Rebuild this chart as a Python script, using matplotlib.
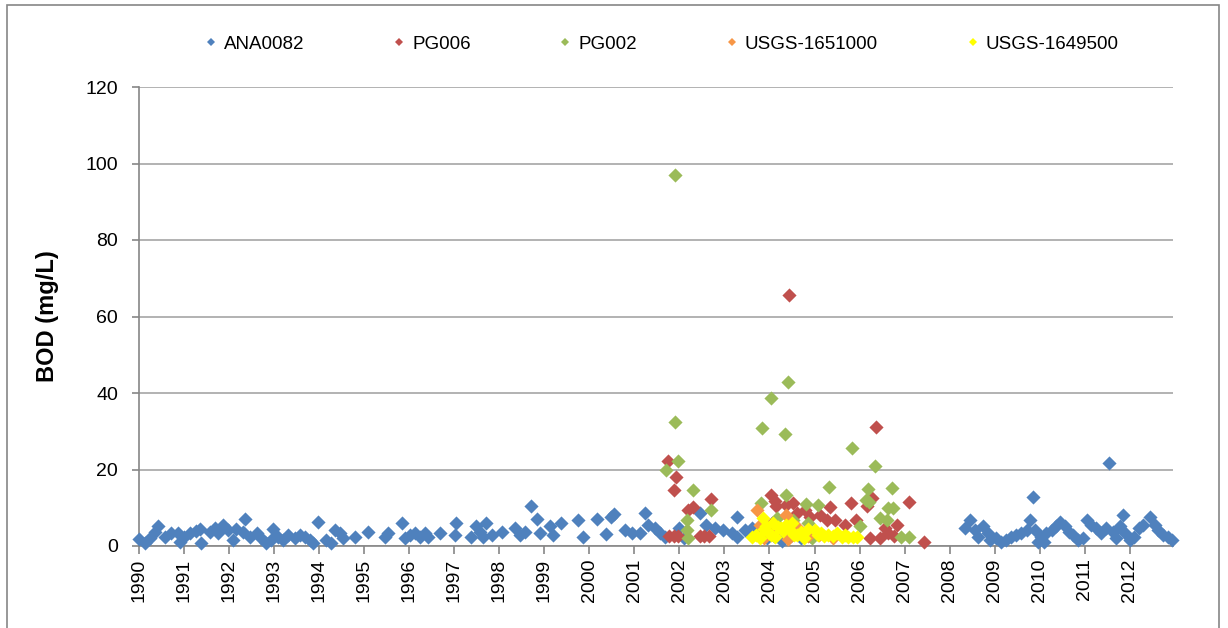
import matplotlib
matplotlib.use("Agg")
import matplotlib.pyplot as plt
from matplotlib.lines import Line2D
from matplotlib.patches import Rectangle

# sample dates as decimal years, BOD in mg/L
ana_x = [1990.00, 1990.13, 1990.24, 1990.35, 1990.42, 1990.57, 1990.72, 1990.87, 1990.90,
         1991.01, 1991.13, 1991.27, 1991.35, 1991.38, 1991.57, 1991.68, 1991.75, 1991.87, 1991.98,
         1992.09, 1992.16, 1992.31, 1992.35, 1992.46, 1992.61, 1992.72, 1992.83, 1992.94, 1992.98,
         1993.09, 1993.20, 1993.31, 1993.46, 1993.57, 1993.68, 1993.79, 1993.86, 1993.98,
         1994.16, 1994.27, 1994.35, 1994.46, 1994.53, 1994.79, 1995.09, 1995.46, 1995.53,
         1995.83, 1995.90, 1996.01, 1996.12, 1996.23, 1996.35, 1996.42, 1996.68,
         1997.01, 1997.05, 1997.38, 1997.49, 1997.57, 1997.64, 1997.71, 1997.83,
         1998.05, 1998.35, 1998.45, 1998.57, 1998.71, 1998.83, 1998.90,
         1999.12, 1999.19, 1999.38, 1999.75, 1999.86, 2000.16, 2000.38, 2000.49, 2000.54,
         2000.79, 2000.94, 2001.12, 2001.23, 2001.30, 2001.45, 2001.56, 2001.67,
         2002.00, 2002.10, 2002.45, 2002.60, 2002.79, 2002.97, 2003.16, 2003.27, 2003.27,
         2003.45, 2003.56, 2003.62, 2003.80, 2003.95, 2004.10, 2004.28, 2004.50, 2004.70, 2004.90,
         2008.34, 2008.45, 2008.56, 2008.63, 2008.74, 2008.85, 2008.89, 2009.04, 2009.15,
         2009.26, 2009.37, 2009.48, 2009.59, 2009.71, 2009.78, 2009.85, 2009.89, 2009.97,
         2010.04, 2010.10, 2010.15, 2010.27, 2010.37, 2010.45, 2010.56, 2010.64, 2010.75,
         2010.85, 2010.97, 2011.04, 2011.15, 2011.26, 2011.37, 2011.48, 2011.54, 2011.62,
         2011.70, 2011.78, 2011.85, 2011.90, 2012.00, 2012.10, 2012.20, 2012.30, 2012.45,
         2012.56, 2012.63, 2012.74, 2012.85, 2012.93]
ana_y = [1.8, 0.7, 2.0, 3.7, 5.2, 2.4, 3.3, 3.3, 1.1,
         2.4, 3.3, 4.0, 4.4, 0.7, 3.7, 4.6, 3.3, 5.5, 4.2,
         1.6, 4.4, 3.7, 7.0, 2.4, 3.3, 2.0, 0.7, 1.6, 4.4,
         2.4, 1.6, 2.9, 2.0, 2.9, 2.4, 1.6, 0.7, 6.4,
         1.6, 0.7, 4.2, 3.3, 2.0, 2.4, 3.7, 2.4, 3.3,
         5.9, 2.0, 2.9, 3.3, 2.4, 3.3, 2.4, 3.3,
         2.9, 5.9, 2.4, 5.1, 3.7, 2.4, 5.9, 2.9,
         3.7, 4.6, 2.9, 3.7, 10.5, 7.0, 3.3,
         5.1, 2.9, 6.1, 6.8, 2.4, 7.0, 3.1, 7.7, 8.4,
         4.2, 3.3, 3.3, 8.6, 5.5, 4.6, 3.3, 2.4,
         4.6, 2.2, 8.6, 5.5, 4.6, 4.2, 3.3, 7.5, 2.4,
         4.2, 3.3, 4.6, 3.0, 2.0, 2.5, 1.3, 3.0, 2.0, 2.5,
         4.6, 6.8, 4.2, 2.4, 5.1, 3.3, 1.6, 2.0, 1.1,
         1.6, 2.4, 2.9, 3.3, 4.2, 6.8, 12.9, 4.2, 1.1,
         2.4, 1.1, 3.3, 4.2, 5.1, 6.4, 5.1, 3.7, 2.9,
         1.6, 2.0, 6.8, 5.5, 4.6, 3.3, 4.6, 21.6, 3.7,
         2.0, 5.1, 8.1, 3.3, 1.6, 2.4, 4.6, 5.5, 7.7,
         5.5, 4.2, 2.9, 2.4, 1.6]

pg006_x = [2001.75, 2001.77, 2001.87, 2001.88, 2001.93, 2001.97, 2002.19, 2002.30, 2002.45,
           2002.55, 2002.65, 2002.71, 2004.03, 2004.05, 2004.12, 2004.15, 2004.34, 2004.37,
           2004.43, 2004.53, 2004.62, 2004.79, 2004.90, 2005.12, 2005.27, 2005.34, 2005.45,
           2005.67, 2005.82, 2005.93, 2006.16, 2006.23, 2006.28, 2006.37, 2006.45, 2006.56,
           2006.64, 2006.77, 2006.83, 2007.10, 2007.44]
pg006_y = [22.1, 2.5, 14.7, 2.5, 18.1, 2.5, 9.4, 10.3, 2.5,
           2.5, 2.5, 12.2, 13.3, 6.0, 11.7, 10.5, 4.6, 10.7,
           65.5, 11.2, 8.5, 9.4, 7.7, 8.1, 6.8, 10.3, 6.8,
           5.5, 11.2, 6.8, 10.5, 2.0, 12.5, 31.0, 2.0, 4.6,
           3.3, 2.5, 5.5, 11.6, 1.0]

pg002_x = [2001.71, 2001.90, 2001.90, 2001.97, 2002.16, 2002.16, 2002.19, 2002.30, 2002.71,
           2003.82, 2003.83, 2004.03, 2004.16, 2004.35, 2004.37, 2004.42, 2004.53, 2004.80,
           2004.86, 2004.95, 2005.08, 2005.32, 2005.83, 2006.00, 2006.15, 2006.19, 2006.22,
           2006.34, 2006.45, 2006.60, 2006.64, 2006.73, 2006.75, 2006.93, 2007.10]
pg002_y = [19.9, 97.1, 32.3, 22.1, 6.8, 4.2, 2.0, 14.7, 9.4,
           11.2, 30.8, 38.7, 7.2, 29.3, 13.4, 42.8, 6.8, 11.0,
           5.9, 2.1, 10.7, 15.5, 25.6, 5.2, 12.0, 14.8, 11.6,
           20.9, 7.2, 6.7, 9.9, 15.1, 9.9, 2.3, 2.3]

usgs1651_x = [2003.73, 2003.80, 2003.88, 2004.15, 2004.37, 2004.40, 2004.60, 2004.85, 2005.10, 2005.40]
usgs1651_y = [9.4, 5.5, 2.0, 4.0, 8.1, 1.8, 5.0, 2.5, 3.0, 2.0]

usgs1649_x = [2003.62, 2003.70, 2003.78, 2003.85, 2003.88, 2003.93, 2003.98, 2004.03, 2004.08,
              2004.12, 2004.20, 2004.26, 2004.30, 2004.37, 2004.45, 2004.50, 2004.55, 2004.60,
              2004.71, 2004.76, 2004.85, 2005.00, 2005.08, 2005.15, 2005.22, 2005.30, 2005.40,
              2005.50, 2005.60, 2005.68, 2005.75, 2005.85, 2005.95]
usgs1649_y = [2.3, 3.0, 2.0, 7.2, 4.5, 5.1, 3.5, 3.0, 6.0,
              2.3, 5.0, 4.6, 4.0, 5.5, 4.2, 6.0, 3.0, 3.0,
              3.7, 2.0, 4.5, 4.2, 2.8, 3.3, 2.5, 3.0, 2.5,
              3.3, 2.3, 2.8, 2.3, 2.3, 2.3]

names = ["ANA0082", "PG006", "PG002", "USGS-1651000", "USGS-1649500"]
colors = ["#4F81BD", "#C0504D", "#9BBB59", "#F79646", "#FFFF00"]
years = list(range(1990, 2013))

plt.rcParams['font.family'] = ['Liberation Sans', 'DejaVu Sans']

fig = plt.figure(figsize=(12.28, 6.28), dpi=100)
ax = fig.add_axes([139 / 1228, 82 / 628, (1173 - 139) / 1228, (546 - 87) / 628])

series = [(ana_x, ana_y), (pg006_x, pg006_y), (pg002_x, pg002_y),
          (usgs1651_x, usgs1651_y), (usgs1649_x, usgs1649_y)]
for (xs, ys), c in zip(series, colors):
    ax.scatter(xs, ys, marker='D', s=52, color=c, linewidths=0, zorder=3, clip_on=False)

ax.set_xlim(1990, 2012.96)
ax.set_ylim(0, 120)
ax.set_yticks(range(0, 121, 20))
ax.set_xticks(years)
ax.set_xticklabels([str(y) for y in years], rotation=90)
ax.tick_params(axis='both', labelsize=14, colors='#868686', labelcolor='black')
ax.tick_params(axis='x', length=6, width=1.2, pad=3)
ax.tick_params(axis='y', length=5, width=1.2, pad=10)
ax.yaxis.grid(True, color='#A6A6A6', lw=1.2)
ax.set_axisbelow(True)
for s in ['top', 'right']:
    ax.spines[s].set_visible(False)
for s in ['left', 'bottom']:
    ax.spines[s].set_color('#868686')
    ax.spines[s].set_linewidth(1.2)

fig.text(48 / 1228, 1 - 316 / 628, "BOD (mg/L)", rotation=90, fontsize=17,
         fontweight='bold', ha='center', va='center')

handles = [Line2D([], [], marker='D', ls='', markersize=4.5, color=c, markeredgewidth=0)
           for c in colors]
fig.legend(handles, names, loc='center', bbox_to_anchor=(662 / 1228, 1 - 44 / 628),
           ncol=5, frameon=False, fontsize=13.5, handlelength=0.6, handletextpad=0.4,
           columnspacing=4.75)

# outer chart frame
fig.add_artist(Rectangle((7 / 1228, -0.02), 1212 / 1228, (628 - 5) / 628 + 0.02,
                         transform=fig.transFigure, fill=False, ec='#868686', lw=1.2))

fig.savefig("out.png", dpi=100)
